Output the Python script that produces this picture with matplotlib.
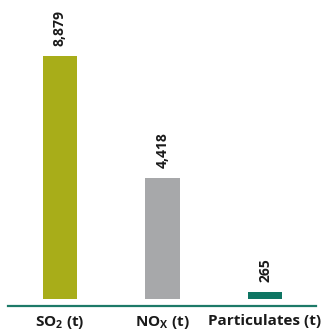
import matplotlib
matplotlib.use("Agg")
import matplotlib.pyplot as plt

# emissions per pollutant, tonnes
categories = [r"SO$_\mathbf{2}$ (t)", r"NO$_\mathbf{X}$ (t)", "Particulates (t)"]
values = [8879, 4418, 265]
colors = ["#a8ad19", "#a7a8aa", "#0e7563"]

plt.rcParams["font.family"] = ["Open Sans", "DejaVu Sans"]
plt.rcParams["mathtext.fontset"] = "custom"
plt.rcParams["mathtext.bf"] = "Open Sans:bold"
plt.rcParams["mathtext.rm"] = "Open Sans"

fig = plt.figure(figsize=(3.24, 3.32), dpi=100)
ax = fig.add_axes([8 / 324, 26 / 332, 308 / 324, 306 / 332])

x = range(len(values))
ax.bar(x, values, width=0.34, color=colors)

for xi, v in zip(x, values):
    ax.annotate(f"{v:,}", (xi, v), xytext=(0, 7), textcoords="offset points",
                rotation=90, ha="center", va="bottom",
                fontsize=10, fontweight="bold", color="#1a1a1a")

ax.set_xlim(-0.507, 2.497)
ax.set_ylim(-256, 10925)
ax.set_xticks(list(x))
ax.set_xticklabels(categories, fontsize=11, fontweight="bold", color="#1a1a1a")
ax.tick_params(axis="x", length=0, pad=6)
ax.set_yticks([])

for side in ["top", "left", "right"]:
    ax.spines[side].set_visible(False)
ax.spines["bottom"].set_color("#1d7a68")
ax.spines["bottom"].set_linewidth(1.6)

fig.savefig("out.png", dpi=100)
